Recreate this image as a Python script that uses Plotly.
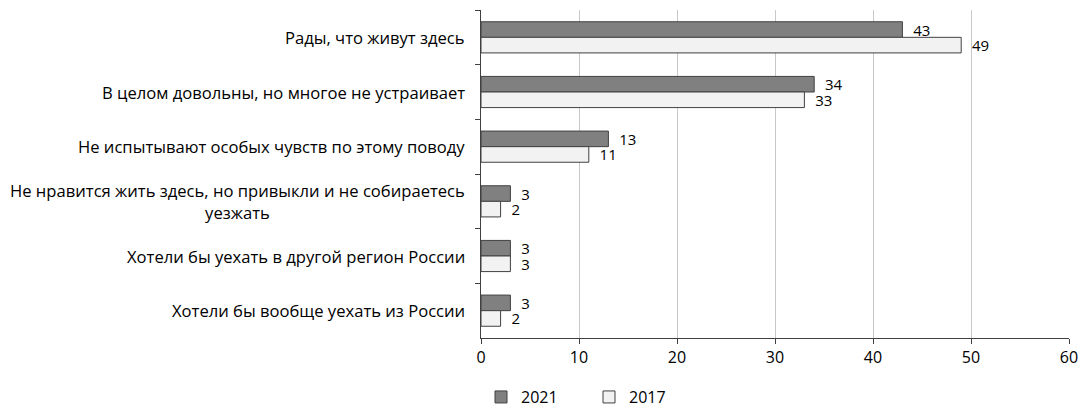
import plotly.graph_objects as go

categories = [
    "Рады, что живут здесь",
    "В целом довольны, но многое не устраивает",
    "Не испытывают особых чувств по этому поводу",
    "Не нравится жить здесь, но привыкли и не собираетесь<br>уезжать",
    "Хотели бы уехать в другой регион России",
    "Хотели бы вообще уехать из России",
]
values_2021 = [43, 34, 13, 3, 3, 3]
values_2017 = [49, 33, 11, 2, 3, 2]
x_ticks = [0, 10, 20, 30, 40, 50, 60]

FONT = "Open Sans"
FS = 16
LFS = 15
ids = [f"c{i}" for i in range(len(categories))]

fig = go.Figure()
fig.add_trace(go.Bar(
    y=ids, x=values_2021, orientation="h", name="2021",
    marker=dict(color="#808080", line=dict(color="#404040", width=1)),
    text=[str(v) for v in values_2021], texttemplate="  %{text}", textposition="outside",
    constraintext="none",
    textfont=dict(family=FONT, size=LFS, color="#000000"), cliponaxis=False,
))
fig.add_trace(go.Bar(
    y=ids, x=values_2017, orientation="h", name="2017",
    marker=dict(color="#f2f2f2", line=dict(color="#404040", width=1)),
    text=[str(v) for v in values_2017], texttemplate="  %{text}", textposition="outside",
    constraintext="none",
    textfont=dict(family=FONT, size=LFS, color="#000000"), cliponaxis=False,
))

for cid, label in zip(ids, categories):
    fig.add_annotation(
        x=0, xref="paper", y=cid, yref="y", text=label, showarrow=False,
        xanchor="right", yanchor="middle", align="center", xshift=-14,
        font=dict(family=FONT, size=16.6, color="#000000"),
    )

fig.update_layout(
    width=1082, height=413,
    margin=dict(l=481, r=13, t=10, b=75, autoexpand=False),
    barmode="group", bargap=0.43, bargroupgap=0,
    plot_bgcolor="white", paper_bgcolor="white",
    font=dict(family=FONT, size=FS, color="#000000"),
    showlegend=True,
    legend=dict(orientation="h", x=0.0, xanchor="left", y=-0.18, yanchor="middle",
                entrywidth=63, entrywidthmode="pixels",
                font=dict(family=FONT, size=FS), itemwidth=30),
    xaxis=dict(range=[0, 60], tickvals=x_ticks, ticktext=[str(t) for t in x_ticks],
               automargin=False,
               showgrid=True, gridcolor="#c8c8c8", gridwidth=1,
               showline=True, linecolor="#404040", linewidth=1,
               ticks="outside", ticklen=5, tickcolor="#404040", zeroline=False,
               tickfont=dict(family=FONT, size=FS)),
    yaxis=dict(autorange="reversed", showticklabels=False, automargin=False,
               showline=True, linecolor="#404040", linewidth=1,
               ticks="outside", ticklen=5, tickcolor="#404040", tickson="boundaries",
               showgrid=False),
)

fig.write_html("out.html", config={"displayModeBar": False})

# remove the default browser body margin so the figure sits at the page origin
with open("out.html", "r", encoding="utf-8") as f:
    html = f.read()
html = html.replace("<body>", '<body style="margin:0;padding:0;">', 1)
with open("out.html", "w", encoding="utf-8") as f:
    f.write(html)
